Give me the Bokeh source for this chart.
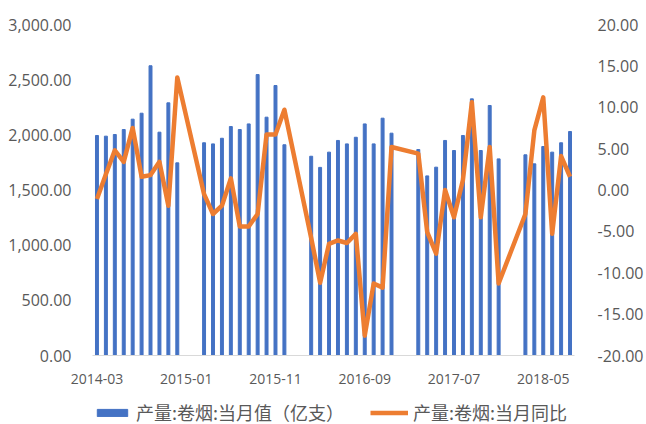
import numpy as np
from bokeh.plotting import figure
from bokeh.layouts import column
from bokeh.models import (Range1d, LinearAxis, FixedTicker, NumeralTickFormatter,
                          Legend, LegendItem, ColumnDataSource)
from bokeh.embed import file_html
from bokeh.resources import INLINE

# ---- data ----
months = [f"{y}-{m:02d}" for y in range(2014, 2019) for m in range(1, 13)]
months = months[2:2 + 54]  # 2014-03 .. 2018-08

output_vals = [
    1994, 1988, 2003, 2048, 2142, 2196, 2626, 2024, 2290, 1746,
    None, None, 1928, 1918, 1969, 2075, 2048, 2099, 2546, 2160, 2447, 1910,
    None, None, 1806, 1705, 1843, 1949, 1918, 1978, 2099, 1918, 2151, 2015,
    None, None, 1867, 1628, 1707, 1949, 1858, 1994, 2326, 1858, 2266, 1782,
    None, None, 1819, 1737, 1894, 1843, 1928, 2030,
]
yoy_vals = [
    -1.1, 1.9, 4.8, 3.4, 7.5, 1.6, 1.8, 3.4, -1.9, 13.6,
    None, None, -0.5, -2.9, -1.9, 1.4, -4.4, -4.4, -2.9, 6.7, 6.7, 9.7,
    None, None, -5.8, -11.2, -6.5, -6.1, -6.4, -5.3, -17.6, -11.3, -11.8, 5.2,
    None, None, 4.4, -5.1, -7.7, 0.0, -3.3, 1.2, 10.6, -3.3, 5.2, -11.3,
    None, None, -2.9, 7.2, 11.2, -5.3, 4.1, 1.6,
]
left_ticks = [0, 500, 1000, 1500, 2000, 2500, 3000]
right_ticks = [-20, -15, -10, -5, 0, 5, 10, 15, 20]
label_months = months[::10]

bar_label = "产量:卷烟:当月值（亿支）"
line_label = "产量:卷烟:当月同比"

BLUE = "#4472C4"
ORANGE = "#ED7D31"
GRAY_TXT = "#595959"

idx = list(range(len(months)))
bar_src = ColumnDataSource(dict(
    x=[i for i, v in zip(idx, output_vals) if v is not None],
    top=[v for v in output_vals if v is not None]))
line_src = ColumnDataSource(dict(
    x=[i for i, v in zip(idx, yoy_vals) if v is not None],
    y=[v for v in yoy_vals if v is not None]))

x_rng = Range1d(-0.5, len(months) - 0.5)
p = figure(width=646, height=390, output_backend="svg", toolbar_location=None,
           x_range=x_rng, y_range=Range1d(0, 3000),
           min_border_left=92, min_border_right=65, min_border_top=24,
           min_border_bottom=35)
p.extra_y_ranges = {"yoy": Range1d(-20, 20)}
p.outline_line_color = None
p.xgrid.visible = False
p.ygrid.visible = False

bar_style = dict(width=0.33, color=BLUE)
line_style = dict(line_color=ORANGE, line_width=4.5, line_join="round")
p.vbar(x="x", top="top", source=bar_src, **bar_style)
p.line(x="x", y="y", source=line_src, y_range_name="yoy", **line_style)

# x axis
xa = p.xaxis[0]
xa.ticker = FixedTicker(ticks=[months.index(m) for m in label_months])
xa.major_label_overrides = {months.index(m): m for m in label_months}
xa.axis_line_color = "#D9D9D9"
xa.major_tick_line_color = None
xa.minor_tick_line_color = None
xa.major_label_standoff = 12
xa.major_label_text_font = "Open Sans"
xa.major_label_text_font_size = "14px"
xa.major_label_text_color = GRAY_TXT

# left axis
ya = p.yaxis[0]
ya.ticker = FixedTicker(ticks=left_ticks)
ya.formatter = NumeralTickFormatter(format="0,0.00")
ya.axis_line_color = None
ya.major_tick_line_color = None
ya.minor_tick_line_color = None
ya.major_label_standoff = 15
ya.major_label_text_font = "Open Sans"
ya.major_label_text_font_size = "16px"
ya.major_label_text_color = GRAY_TXT

# right axis
ra = LinearAxis(y_range_name="yoy", ticker=FixedTicker(ticks=right_ticks),
                formatter=NumeralTickFormatter(format="0.00"))
ra.axis_line_color = None
ra.major_tick_line_color = None
ra.minor_tick_line_color = None
ra.major_label_standoff = 17
ra.major_label_text_font = "Open Sans"
ra.major_label_text_font_size = "16px"
ra.major_label_text_color = GRAY_TXT
p.add_layout(ra, "right")

# legend strip: a small figure whose y range lies above all values, so its
# copies of the series stay out of view and only the legend shows
lg = figure(width=646, height=34, output_backend="svg", toolbar_location=None,
            x_axis_location=None, y_axis_location=None,
            x_range=x_rng, y_range=Range1d(4000, 6000),
            min_border=0, outline_line_color=None)
lg.xgrid.visible = False
lg.ygrid.visible = False
lb = lg.vbar(x="x", top="top", source=bar_src, **bar_style)
ll = lg.line(x="x", y="y", source=line_src, **line_style)

legend = Legend(items=[LegendItem(label=bar_label, renderers=[lb]),
                       LegendItem(label=line_label, renderers=[ll])],
                orientation="horizontal", location=(1, -1),
                glyph_width=38, glyph_height=9, label_standoff=5, spacing=26,
                padding=0, margin=0, border_line_color=None,
                background_fill_alpha=0,
                label_text_font="Noto Sans CJK SC", label_text_font_size="18px",
                label_text_color=GRAY_TXT)
lg.add_layout(legend)

open("out.html", "w").write(file_html(column(p, lg, spacing=0), INLINE))
